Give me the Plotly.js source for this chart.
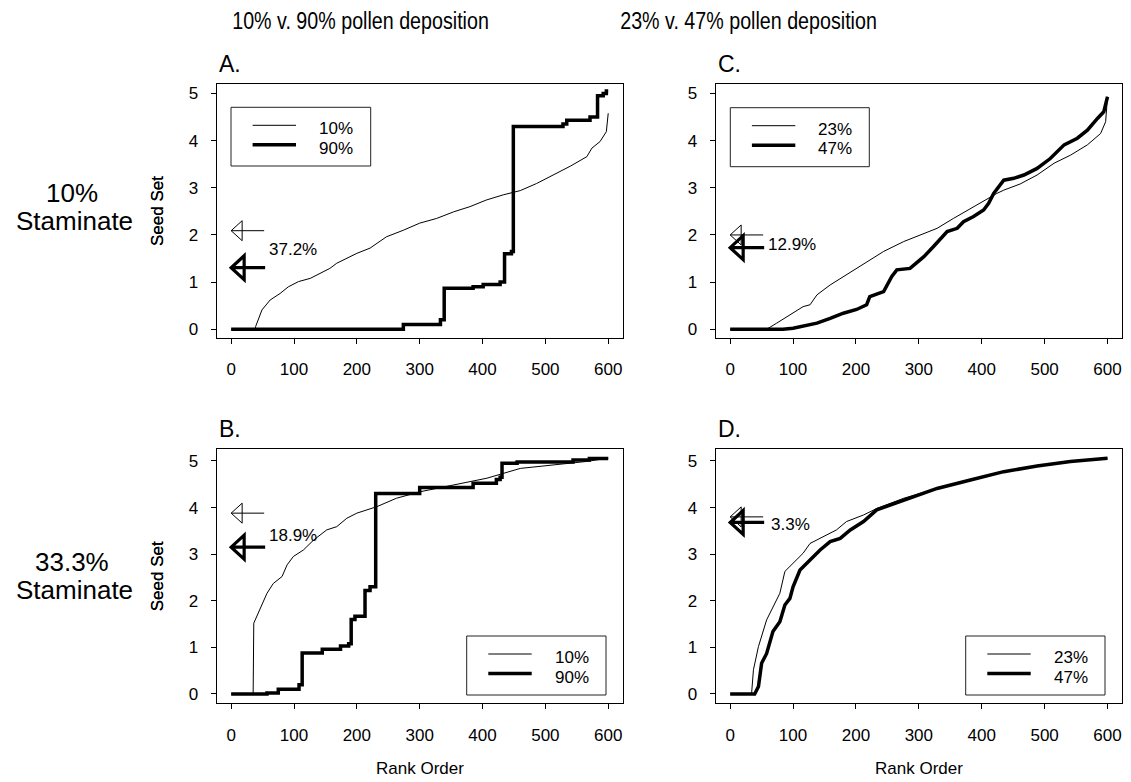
<!DOCTYPE html>
<html>
<head>
<meta charset="utf-8">
<script src="https://cdn.plot.ly/plotly-3.0.1.min.js"></script>
<style>html,body{margin:0;padding:0;background:#fff}#chart{width:1131px;height:782px}</style>
</head>
<body>
<div id="chart"></div>
<script>
// ---------- DATA ----------
// Panel A: 10% staminate, 10% vs 90% pollen deposition
const a10Rank = [0, 38, 39, 49, 62, 78, 91, 107, 126, 157, 168, 200, 221, 247, 274, 300, 327, 354, 380, 406, 433, 460, 486, 513, 540, 566, 574, 587, 592, 597, 600];
const a10Seed = [0, 0, 0.06, 0.41, 0.62, 0.76, 0.9, 1.01, 1.08, 1.29, 1.4, 1.61, 1.72, 1.96, 2.1, 2.25, 2.35, 2.49, 2.6, 2.74, 2.85, 2.94, 3.09, 3.27, 3.46, 3.66, 3.84, 3.98, 4.08, 4.19, 4.58];
const a90Rank = [0, 274, 333, 339, 385, 401, 428, 435, 446, 449, 528, 534, 571, 583, 592, 597, 600];
const a90Seed = [0, 0.1, 0.2, 0.87, 0.9, 0.95, 1.0, 1.6, 1.65, 4.3, 4.35, 4.43, 4.5, 4.95, 5.0, 5.05, 5.05];
// Panel B: 33.3% staminate, 10% vs 90%
const b10Rank = [0, 35, 36, 43, 57, 67, 81, 89, 99, 115, 131, 152, 168, 184, 200, 232, 263, 301, 354, 407, 460, 513, 566, 600];
const b10Seed = [0, 0, 1.52, 1.73, 2.16, 2.37, 2.52, 2.77, 2.95, 3.09, 3.3, 3.52, 3.59, 3.77, 3.88, 4.02, 4.2, 4.34, 4.49, 4.63, 4.84, 4.91, 4.99, 5.06];
const b90Rank = [0, 57, 75, 108, 113, 145, 174, 187, 191, 197, 213, 221, 230, 300, 385, 422, 428, 431, 455, 544, 570, 600];
const b90Seed = [0, 0.02, 0.1, 0.2, 0.88, 0.96, 1.03, 1.08, 1.6, 1.67, 2.22, 2.3, 4.3, 4.43, 4.52, 4.6, 4.65, 4.95, 4.98, 5.02, 5.05, 5.05];
// Panel C: 10% staminate, 23% vs 47%
const c23Rank = [0, 58, 74, 95, 116, 127, 138, 159, 180, 201, 222, 244, 276, 286, 329, 355, 382, 408, 424, 435, 461, 488, 515, 541, 568, 589, 597, 600];
const c23Seed = [0, 0, 0.13, 0.3, 0.48, 0.52, 0.73, 0.94, 1.12, 1.29, 1.47, 1.65, 1.86, 1.91, 2.14, 2.35, 2.56, 2.75, 2.88, 2.95, 3.08, 3.27, 3.52, 3.69, 3.91, 4.15, 4.4, 4.93];
const c47Rank = [0, 84, 100, 116, 138, 159, 180, 201, 217, 222, 244, 257, 265, 286, 308, 323, 345, 361, 371, 387, 403, 411, 419, 435, 451, 467, 488, 509, 531, 552, 568, 584, 594, 600];
const c47Seed = [0, 0, 0.02, 0.07, 0.13, 0.23, 0.34, 0.42, 0.52, 0.69, 0.8, 1.12, 1.26, 1.29, 1.54, 1.75, 2.07, 2.14, 2.28, 2.39, 2.53, 2.67, 2.88, 3.16, 3.2, 3.27, 3.41, 3.62, 3.91, 4.05, 4.22, 4.47, 4.61, 4.93];
// Panel D: 33.3% staminate, 23% vs 47%
const d23Rank = [0, 34, 37, 45, 58, 68, 79, 87, 100, 116, 127, 148, 169, 185, 212, 233, 276, 329, 382, 435, 488, 541, 600];
const d23Seed = [0, 0, 0.52, 1.02, 1.59, 1.87, 2.16, 2.63, 2.8, 3.02, 3.23, 3.38, 3.52, 3.7, 3.84, 3.98, 4.2, 4.41, 4.59, 4.77, 4.89, 4.99, 5.06];
const d47Rank = [0, 39, 45, 50, 58, 68, 79, 87, 95, 100, 111, 127, 143, 159, 175, 191, 212, 233, 276, 329, 382, 435, 488, 541, 600];
const d47Seed = [0, 0, 0.16, 0.66, 0.87, 1.34, 1.55, 1.91, 2.05, 2.3, 2.66, 2.88, 3.09, 3.27, 3.34, 3.52, 3.7, 3.95, 4.16, 4.41, 4.59, 4.77, 4.89, 4.99, 5.06];

// Mean arrows (low level = thin arrow, high level = thick arrow) and difference labels
const panelLetters = ["A.", "B.", "C.", "D."];
const lowNames = ["10%", "10%", "23%", "23%"];
const highNames = ["90%", "90%", "47%", "47%"];
const lowMeans = [2.09, 3.88, 2.0, 3.8];
const highMeans = [1.305, 3.15, 1.73, 3.68];
const diffLabels = ["37.2%", "18.9%", "12.9%", "3.3%"];
const diffLabelY = [1.69, 3.41, 1.79, 3.63];
const columnTitles = ["10% v. 90% pollen deposition", "23% v. 47% pollen deposition"];
const rowPct = ["10%", "33.3%"];
const rowWord = "Staminate";
const yTitle = "Seed Set";
const xTitle = "Rank Order";
const xTicks = [0, 100, 200, 300, 400, 500, 600];
const yTicks = [0, 1, 2, 3, 4, 5];

// ---------- LAYOUT ----------
const W = 1131, H = 782;
const px = x => x / W;
const py = y => 1 - y / H;
const FONT = "Liberation Sans, Arial, sans-serif";

// panel order: A (top-left), B (bottom-left), C (top-right), D (bottom-right)
const panels = [
  {xa: "x",  ya: "y",  lowX: a10Rank, lowY: a10Seed, highX: a90Rank, highY: a90Seed, highShape: "hv",
   box: [216.7, 84, 623, 338], leg: [231, 107.3, 370.7, 166]},
  {xa: "x3", ya: "y3", lowX: b10Rank, lowY: b10Seed, highX: b90Rank, highY: b90Seed, highShape: "hv",
   box: [216.7, 449.3, 623, 703.3], leg: [466.7, 636, 606, 695]},
  {xa: "x2", ya: "y2", lowX: c23Rank, lowY: c23Seed, highX: c47Rank, highY: c47Seed, highShape: "linear",
   box: [715.7, 84, 1122.3, 338], leg: [730.3, 107.7, 869.3, 166.7]},
  {xa: "x4", ya: "y4", lowX: d23Rank, lowY: d23Seed, highX: d47Rank, highY: d47Seed, highShape: "linear",
   box: [715.7, 449.3, 1122.3, 703.3], leg: [965.7, 636, 1105, 695]}
];

const traces = [];
const shapes = [];
const annotations = [];

panels.forEach((p, i) => {
  traces.push({x: p.lowX, y: p.lowY, xaxis: p.xa, yaxis: p.ya, type: "scatter", mode: "lines",
    name: lowNames[i], line: {color: "#000", width: 1}, showlegend: false, hoverinfo: "skip"});
  traces.push({x: p.highX, y: p.highY, xaxis: p.xa, yaxis: p.ya, type: "scatter", mode: "lines",
    name: highNames[i], line: {color: "#000", width: 3.5, shape: p.highShape}, showlegend: false, hoverinfo: "skip"});

  // arrows at the means (open triangular heads)
  shapes.push({type: "path", xref: p.xa, yref: p.ya, xsizemode: "pixel", ysizemode: "pixel",
    xanchor: 0, yanchor: lowMeans[i], path: "M11,10 L0,0 L11,-10 Z M0,0 L33,0", line: {color: "#000", width: 1}});
  shapes.push({type: "path", xref: p.xa, yref: p.ya, xsizemode: "pixel", ysizemode: "pixel",
    xanchor: 0, yanchor: highMeans[i], path: "M13,12 L0,0 L13,-12 Z M0,0 L34,0", line: {color: "#000", width: 3.2}});
  annotations.push({xref: p.xa, yref: p.ya, x: i === 3 ? 61 : 57, y: diffLabelY[i], text: diffLabels[i],
    showarrow: false, xanchor: "left", yanchor: "middle", font: {family: FONT, size: 17, color: "#000"}});

  // panel letter
  annotations.push({xref: "paper", yref: "paper", x: px(p.box[0]), y: py(p.box[1] - 20), text: panelLetters[i],
    showarrow: false, xanchor: "left", yanchor: "middle", font: {family: FONT, size: 23, color: "#000"}});

  // legend box
  const L = p.leg;
  shapes.push({type: "rect", xref: "paper", yref: "paper", x0: px(L[0]), x1: px(L[2]), y0: py(L[1]), y1: py(L[3]),
    line: {color: "#222", width: 1}, fillcolor: "rgba(255,255,255,0)"});
  const lx0 = L[0] + 21.6, lx1 = L[0] + 65, ly1 = L[1] + 18, ly2 = L[1] + 37.5;
  shapes.push({type: "line", xref: "paper", yref: "paper", x0: px(lx0), x1: px(lx1), y0: py(ly1), y1: py(ly1), line: {color: "#000", width: 1}});
  shapes.push({type: "line", xref: "paper", yref: "paper", x0: px(lx0), x1: px(lx1), y0: py(ly2), y1: py(ly2), line: {color: "#000", width: 3.5}});
  annotations.push({xref: "paper", yref: "paper", x: px(L[0] + 86), y: py(ly1 + 3.5), text: lowNames[i],
    showarrow: false, xanchor: "left", yanchor: "middle", font: {family: FONT, size: 17, color: "#000"}});
  annotations.push({xref: "paper", yref: "paper", x: px(L[0] + 86), y: py(ly2 + 3.5), text: highNames[i],
    showarrow: false, xanchor: "left", yanchor: "middle", font: {family: FONT, size: 17, color: "#000"}});

  // y title
  annotations.push({xref: "paper", yref: "paper", x: px(157), y: py((p.box[1] + p.box[3]) / 2), text: yTitle,
    textangle: -90, showarrow: false, xanchor: "center", yanchor: "middle", font: {family: FONT, size: 17, color: "#000"}});
  // x title only on bottom row
  if (i === 1 || i === 3) {
    annotations.push({xref: "paper", yref: "paper", x: px((p.box[0] + p.box[2]) / 2), y: py(768), text: xTitle,
      showarrow: false, xanchor: "center", yanchor: "middle", font: {family: FONT, size: 17, color: "#000"}});
  }
});

// column titles
annotations.push({xref: "paper", yref: "paper", x: px(360), y: py(21), text: columnTitles[0], showarrow: false,
  xanchor: "center", yanchor: "middle", font: {family: FONT, size: 24, color: "#000"}});
annotations.push({xref: "paper", yref: "paper", x: px(748), y: py(21), text: columnTitles[1], showarrow: false,
  xanchor: "center", yanchor: "middle", font: {family: FONT, size: 24, color: "#000"}});
// row labels
[[192.7, 221], [561.7, 590]].forEach((ys, r) => {
  annotations.push({xref: "paper", yref: "paper", x: px(72), y: py(ys[0]), text: rowPct[r], showarrow: false,
    xanchor: "center", yanchor: "middle", font: {family: FONT, size: 26, color: "#000"}});
  annotations.push({xref: "paper", yref: "paper", x: px(74), y: py(ys[1]), text: rowWord, showarrow: false,
    xanchor: "center", yanchor: "middle", font: {family: FONT, size: 26, color: "#000"}});
});

function xAxis(dom, anchor) {
  return {domain: dom, anchor: anchor, range: [-23, 623.5], tickvals: xTicks, ticktext: xTicks.map(String),
    ticks: "outside", ticklen: 5, tickwidth: 1, tickcolor: "#000", showline: true, mirror: true,
    linecolor: "#000", linewidth: 1, showgrid: false, zeroline: false, ticklabelstandoff: 11,
    tickfont: {family: FONT, size: 17, color: "#000"}, fixedrange: true};
}
function yAxis(dom, anchor, rng) {
  return {domain: dom, anchor: anchor, range: rng, tickvals: yTicks, ticktext: yTicks.map(String),
    ticks: "outside", ticklen: 5, tickwidth: 1, tickcolor: "#000", showline: true, mirror: true,
    linecolor: "#000", linewidth: 1, showgrid: false, zeroline: false, ticklabelstandoff: 9,
    tickfont: {family: FONT, size: 17, color: "#000"}, fixedrange: true};
}
const xL = [px(216.7), px(623)], xR = [px(715.7), px(1122.3)];
const yT = [py(338), py(84)], yB = [py(703.3), py(449.3)];
const rTop = [-0.185, 5.2], rBot = [-0.2, 5.25];

const layout = {
  width: W, height: H, margin: {l: 0, r: 0, t: 0, b: 0},
  paper_bgcolor: "#fff", plot_bgcolor: "#fff", showlegend: false,
  xaxis: xAxis(xL, "y"), yaxis: yAxis(yT, "x", rTop),
  xaxis2: xAxis(xR, "y2"), yaxis2: yAxis(yT, "x2", rTop),
  xaxis3: xAxis(xL, "y3"), yaxis3: yAxis(yB, "x3", rBot),
  xaxis4: xAxis(xR, "y4"), yaxis4: yAxis(yB, "x4", rBot),
  shapes: shapes, annotations: annotations
};

Plotly.newPlot("chart", traces, layout, {displayModeBar: false, staticPlot: true}).then(() => {
  // the column titles in the reference are set in a condensed face: squeeze them horizontally
  document.querySelectorAll("#chart text.annotation-text").forEach(t => {
    if (columnTitles.indexOf(t.textContent) >= 0) {
      const cx = parseFloat(t.getAttribute("x")) || 0;
      const prev = t.getAttribute("transform") || "";
      t.setAttribute("transform", prev + " translate(" + cx + ",0) scale(0.82,1) translate(" + (-cx) + ",0)");
    }
  });
});
</script>
</body>
</html>
